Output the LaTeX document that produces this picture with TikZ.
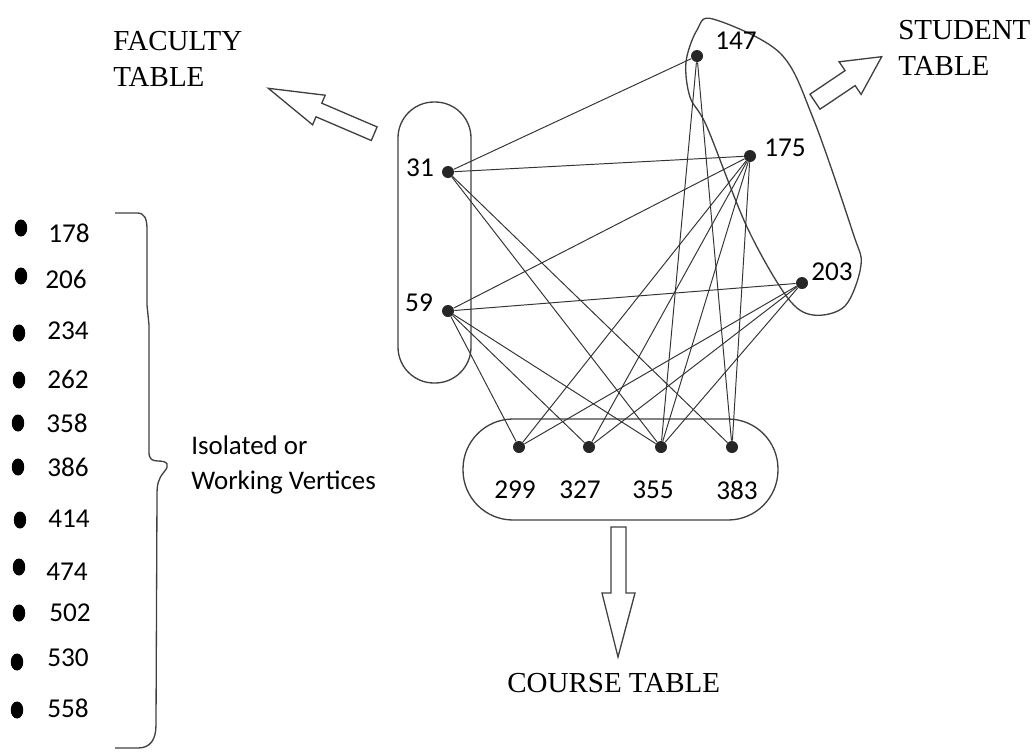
\documentclass[tikz,border=0pt]{standalone}
\usepackage{fontspec}
\setmainfont{Liberation Serif}
\newfontfamily\calibri{Carlito}
\usetikzlibrary{shapes.geometric}

\begin{document}
\begin{tikzpicture}[x=0.02cm, y=-0.02cm]
        \tikzstyle{vertex} = [circle, fill=black!85, inner sep=0pt, minimum size=0.24cm]
        \tikzstyle{isolated} = [ellipse, fill=black, inner sep=0pt, minimum width=0.25cm, minimum height=0.34cm]
        \tikzstyle{num} = [inner sep=0pt, font=\calibri\fontsize{15.5}{18}\selectfont]
        \tikzstyle{tbl} = [inner sep=0pt, align=left, font=\fontsize{16.5}{20.5}\selectfont]
        \tikzstyle{edge} = [draw=black!80, line width=0.55pt]
        \tikzstyle{group} = [draw=black!75, line width=0.75pt]
        \tikzstyle{bigarrow} = [draw=black!75, line width=0.75pt, line join=miter]
        \useasboundingbox (0,0) rectangle (1035,751);

        % hyperedges
        \draw[group, rounded corners=0.72cm] (398,102) rectangle (471,383);
        \draw[group, rounded corners=1.0cm] (463,419) rectangle (778,520);
        \draw[group] plot[smooth cycle, tension=0.55] coordinates {(713,19) (780,53) (813,118) (853,233) (861,265) (845,306) (813,315) (787,297) (747,227) (707,127) (690,97) (686,62) (697,30)};

        % vertices
        \node (v31) [vertex] at (448,172) {};
        \node (v59) [vertex] at (448,311) {};
        \node (v147) [vertex] at (697,56) {};
        \node (v175) [vertex] at (750,156) {};
        \node (v203) [vertex] at (802,283) {};
        \node (v299) [vertex] at (519,447) {};
        \node (v327) [vertex] at (589,447) {};
        \node (v355) [vertex] at (661,447) {};
        \node (v383) [vertex] at (732,447) {};

        \node (l31) [num] at (420,168) {31};
        \node (l59) [num] at (419,303) {59};
        \node (l147) [num] at (736,41) {147};
        \node (l175) [num] at (785,148) {175};
        \node (l203) [num] at (832,272) {203};
        \node (l299) [num] at (515,490) {299};
        \node (l327) [num] at (580,490) {327};
        \node (l355) [num] at (653,490) {355};
        \node (l383) [num] at (737,490) {383};

        % edges
        \draw[edge] (v31) -- (v147);
        \draw[edge] (v31) -- (v175);
        \draw[edge] (v31) -- (v355);
        \draw[edge] (v31) -- (v383);
        \draw[edge] (v59) -- (v175);
        \draw[edge] (v59) -- (v203);
        \draw[edge] (v59) -- (v299);
        \draw[edge] (v59) -- (v327);
        \draw[edge] (v59) -- (v355);
        \draw[edge] (v147) -- (v355);
        \draw[edge] (v147) -- (v383);
        \draw[edge] (v175) -- (v299);
        \draw[edge] (v175) -- (v327);
        \draw[edge] (v175) -- (v355);
        \draw[edge] (v175) -- (v383);
        \draw[edge] (v203) -- (v299);
        \draw[edge] (v203) -- (v327);
        \draw[edge] (v203) -- (v355);

        % table arrows
        \draw[bigarrow] (377.1,126.9) -- (321.8,103.2) -- (325.2,95.2) -- (268.3,88.3) -- (312.6,124.8) -- (316.0,116.8) -- (371.3,140.5) -- cycle;
        \draw[bigarrow] (810,94.2) -- (845.1,70.6) -- (839.1,61.8) -- (881.7,56.7) -- (861.1,94.4) -- (855.1,85.6) -- (820,109.2) -- cycle;
        \draw[bigarrow] (611,527) -- (626,527) -- (626,593) -- (635,593) -- (618,657) -- (602,593) -- (611,593) -- cycle;

        \node (faculty) [tbl, anchor=north west] at (113,31) {FACULTY\\TABLE};
        \node (student) [tbl, anchor=north west] at (898,20) {STUDENT\\TABLE};
        \node (course) [tbl, anchor=base west] at (507,692) {COURSE TABLE};

        % isolated vertices
        \node (i178) [isolated] at (21,228) {};
        \node (i206) [isolated] at (21,276) {};
        \node (i234) [isolated] at (19,333) {};
        \node (i262) [isolated] at (19,380) {};
        \node (i358) [isolated] at (18,423) {};
        \node (i386) [isolated] at (18,467) {};
        \node (i414) [isolated] at (20,520) {};
        \node (i474) [isolated] at (19,567) {};
        \node (i502) [isolated] at (19,613) {};
        \node (i530) [isolated] at (17,662) {};
        \node (i558) [isolated] at (17,710) {};

        \node (n178) [num] at (69,233) {178};
        \node (n206) [num] at (66,279) {206};
        \node (n234) [num] at (68,331) {234};
        \node (n262) [num] at (68,379) {262};
        \node (n358) [num] at (67,423) {358};
        \node (n386) [num] at (68,467) {386};
        \node (n414) [num] at (69,519) {414};
        \node (n474) [num] at (67,572) {474};
        \node (n502) [num] at (70,613) {502};
        \node (n530) [num] at (68,658) {530};
        \node (n558) [num] at (68,708) {558};

        % brace
        \draw[group] (115,213) -- (137,213) .. controls (145,213) and (147,219) .. (147,230) -- (147,305) -- (149,325) -- (149,452) .. controls (149,459) and (152,461) .. (158,461) .. controls (168,461) and (170,465) .. (164,472) .. controls (158,479) and (157,485) .. (157,495) -- (156,725) .. controls (156,740) and (150,748) .. (138,748) -- (115,748);
        \node (iso) [num, anchor=north west, align=left, font=\calibri\fontsize{15.3}{20.4}\selectfont] at (191,435) {Isolated or\\Working Vertices};
\end{tikzpicture}
\end{document}
